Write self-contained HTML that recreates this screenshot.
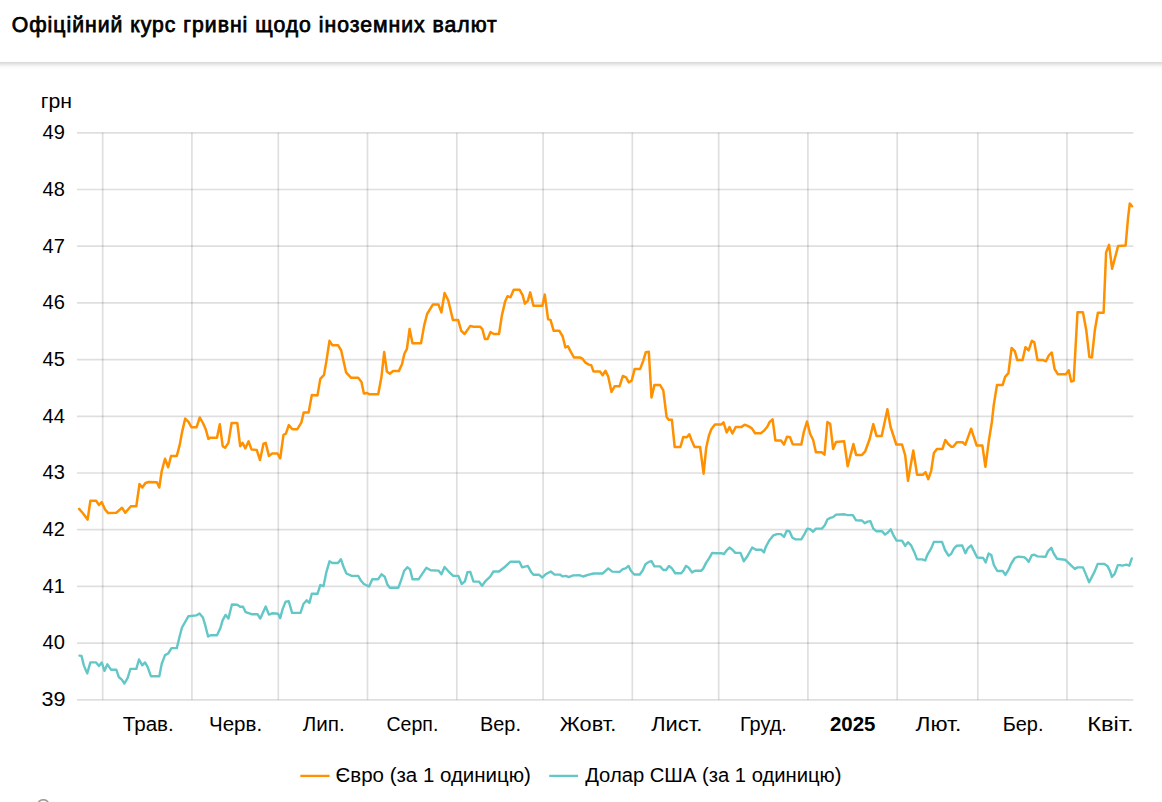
<!DOCTYPE html>
<html lang="uk"><head><meta charset="utf-8">
<title>Офіційний курс гривні щодо іноземних валют</title>
<style>
html,body{margin:0;padding:0;background:#fff;}
body{width:1162px;height:802px;overflow:hidden;position:relative;font-family:"Liberation Sans",Arial,sans-serif;color:#000;}
.hdr{position:absolute;left:-20px;top:0;width:1202px;height:62px;background:#fff;box-shadow:0 2px 5px rgba(0,0,0,0.2);}
svg{position:absolute;left:0;top:0;}
svg text{font-family:"Liberation Sans",Arial,sans-serif;fill:#000;}
</style></head>
<body>
<div class="hdr"></div>
<svg width="1162" height="802" viewBox="0 0 1162 802">
<g stroke="rgba(0,0,0,0.125)" stroke-width="1.7" fill="none">
<line x1="77" y1="132.8" x2="1133.4" y2="132.8"/>
<line x1="77" y1="189.5" x2="1133.4" y2="189.5"/>
<line x1="77" y1="246.2" x2="1133.4" y2="246.2"/>
<line x1="77" y1="302.9" x2="1133.4" y2="302.9"/>
<line x1="77" y1="359.6" x2="1133.4" y2="359.6"/>
<line x1="77" y1="416.3" x2="1133.4" y2="416.3"/>
<line x1="77" y1="473.0" x2="1133.4" y2="473.0"/>
<line x1="77" y1="529.7" x2="1133.4" y2="529.7"/>
<line x1="77" y1="586.4" x2="1133.4" y2="586.4"/>
<line x1="77" y1="643.1" x2="1133.4" y2="643.1"/>
<line x1="77" y1="699.8" x2="1133.4" y2="699.8"/>
<line x1="102.7" y1="132.8" x2="102.7" y2="699.8"/>
<line x1="191.9" y1="132.8" x2="191.9" y2="699.8"/>
<line x1="278.3" y1="132.8" x2="278.3" y2="699.8"/>
<line x1="367.5" y1="132.8" x2="367.5" y2="699.8"/>
<line x1="456.8" y1="132.8" x2="456.8" y2="699.8"/>
<line x1="543.1" y1="132.8" x2="543.1" y2="699.8"/>
<line x1="632.3" y1="132.8" x2="632.3" y2="699.8"/>
<line x1="718.7" y1="132.8" x2="718.7" y2="699.8"/>
<line x1="807.9" y1="132.8" x2="807.9" y2="699.8"/>
<line x1="897.2" y1="132.8" x2="897.2" y2="699.8"/>
<line x1="977.8" y1="132.8" x2="977.8" y2="699.8"/>
<line x1="1067.0" y1="132.8" x2="1067.0" y2="699.8"/>
</g>
<polyline points="79.5,655.6 81.5,655.9 83.9,665.6 87.2,673.4 90.4,662.4 96.1,662.4 99.0,666.0 101.7,662.4 104.5,670.8 107.4,664.3 111.0,669.7 116.3,669.7 118.8,677.0 122.0,679.9 124.4,683.5 127.7,677.8 130.4,668.9 136.3,668.9 139.0,659.5 142.3,665.3 145.0,662.4 147.6,666.9 150.9,676.2 159.3,676.2 161.7,664.0 165.0,655.1 168.2,653.5 171.5,648.1 176.8,648.1 179.6,636.5 182.0,627.5 188.5,616.2 196.3,615.4 199.5,613.4 202.9,617.5 205.2,625.1 208.1,636.5 210.5,635.2 217.0,635.2 220.3,628.3 222.7,620.2 225.6,614.9 228.4,618.6 231.9,604.5 237.3,604.8 240.2,606.8 243.0,606.8 245.7,612.1 251.5,614.2 257.5,614.2 260.3,618.6 265.7,606.5 268.9,614.6 272.1,613.3 278.1,613.8 280.2,618.1 282.7,608.9 285.6,601.6 288.8,601.3 292.1,612.9 300.5,612.9 303.4,604.0 306.7,600.3 309.4,602.9 311.8,593.8 317.5,593.8 320.3,585.1 323.5,586.2 326.1,573.2 329.5,561.3 332.3,563.0 338.0,563.0 340.9,559.2 343.6,567.0 346.4,573.5 351.7,575.9 358.2,575.9 361.0,580.8 363.9,584.0 369.1,586.5 372.3,579.2 378.2,579.2 381.4,574.3 384.7,576.7 387.4,584.5 389.8,587.8 398.3,587.8 401.2,580.0 404.1,571.1 407.3,567.3 410.1,569.4 412.5,579.2 418.7,579.2 421.9,574.3 426.3,567.8 430.7,570.3 438.5,570.6 441.4,574.3 444.6,567.0 449.8,572.7 453.2,575.9 458.4,575.9 461.7,584.0 464.9,581.3 467.5,572.2 470.3,571.9 473.5,581.6 478.9,581.6 482.1,585.7 485.7,580.8 490.2,576.7 493.4,571.5 499.0,571.5 505.1,566.7 510.3,561.8 519.4,561.8 522.1,567.3 527.8,565.9 531.1,571.9 533.5,574.8 539.2,574.8 542.4,577.5 545.6,574.3 550.8,571.5 554.6,574.6 559.9,574.6 562.7,576.4 565.9,575.9 568.7,577.1 573.2,575.4 579.9,575.3 583.1,576.5 588.0,574.8 593.6,573.5 602.6,573.5 605.0,571.3 608.2,568.4 612.3,571.6 619.6,571.9 622.8,569.2 625.6,568.4 628.5,565.9 630.9,570.8 634.2,574.5 639.8,574.5 642.8,570.3 645.5,564.3 648.8,561.9 651.5,561.1 654.4,566.4 660.1,566.4 663.3,570.0 666.1,570.0 669.0,565.9 671.9,568.4 675.2,573.2 681.2,573.2 683.3,570.8 686.0,565.9 688.5,567.5 692.0,572.4 695.0,570.8 701.1,570.8 703.2,568.6 706.2,562.6 709.4,557.8 712.2,552.9 715.4,553.2 721.1,553.2 724.0,554.0 726.7,550.3 729.5,547.5 732.4,549.7 735.3,552.9 740.5,552.9 743.8,561.3 747.0,556.8 752.2,547.5 755.9,549.7 761.3,549.7 764.0,552.4 765.7,547.1 769.4,540.3 773.3,535.4 777.0,534.1 781.0,534.1 784.0,537.0 786.7,530.8 789.5,531.3 792.4,537.8 795.6,539.4 801.3,539.4 804.6,533.8 807.3,528.6 810.2,529.2 813.1,531.8 815.9,528.6 821.9,528.6 824.8,525.3 827.4,519.5 830.2,517.9 833.1,517.2 836.0,514.6 844.5,514.3 847.7,515.1 852.9,515.1 856.1,520.3 862.0,520.5 864.7,523.2 867.5,521.6 870.4,521.1 873.3,528.6 876.5,531.3 882.1,531.3 885.0,534.6 887.9,532.5 890.7,529.2 893.9,536.2 896.6,540.6 902.0,540.6 905.2,545.9 908.0,542.2 910.9,545.1 914.2,551.9 917.1,559.4 922.3,559.4 925.2,560.5 927.4,554.8 931.2,548.4 933.9,541.9 942.0,541.9 945.0,550.0 948.5,555.7 951.1,554.0 954.1,548.3 956.8,545.7 962.2,545.4 965.4,553.2 967.8,548.3 971.1,545.4 974.0,551.1 977.2,557.5 983.2,558.0 985.7,562.4 988.6,553.5 991.3,555.1 993.8,564.8 997.3,571.0 1002.7,571.0 1005.4,574.9 1008.7,569.4 1011.3,563.5 1014.8,558.0 1018.1,556.7 1023.8,557.1 1026.2,558.7 1028.6,561.9 1031.9,555.1 1034.3,554.8 1037.5,556.4 1045.6,556.7 1048.1,551.1 1051.3,547.8 1053.7,553.5 1057.0,558.7 1065.1,559.7 1070.0,564.4 1074.8,568.9 1077.5,567.4 1082.9,567.4 1085.9,574.4 1089.1,582.3 1091.9,576.9 1094.9,570.9 1097.7,563.9 1104.4,563.9 1107.4,565.9 1109.9,570.9 1111.9,576.9 1114.7,573.9 1117.9,565.1 1119.9,565.1 1122.3,565.7 1126.3,564.7 1129.3,565.7 1131.8,558.4" fill="none" stroke="#63c7c7" stroke-width="2.4" stroke-linejoin="round" stroke-linecap="round"/>
<polyline points="79.1,508.9 83.1,513.5 87.6,519.6 90.4,500.8 96.1,500.8 99.0,505.0 101.7,502.1 105.0,509.4 108.2,513.1 116.3,512.8 122.0,507.8 125.3,512.7 130.9,506.2 136.3,506.2 139.5,484.0 142.3,487.5 145.5,483.0 148.8,482.0 156.9,482.3 159.3,487.5 161.7,471.3 165.0,458.7 168.2,467.3 171.1,455.9 176.8,455.9 179.6,445.4 182.0,432.4 185.2,418.6 188.5,421.9 191.4,427.2 196.6,427.2 199.8,417.5 203.2,423.5 205.7,429.2 208.4,438.9 210.5,437.7 217.0,437.7 219.8,424.3 222.7,446.2 225.1,447.8 228.4,442.9 231.6,423.0 237.3,423.0 240.2,446.2 242.5,442.9 245.4,448.3 248.6,441.3 251.5,449.4 256.7,449.9 260.0,460.0 263.5,443.7 265.7,442.9 268.9,455.9 272.1,453.5 277.5,453.5 280.2,458.3 283.5,434.8 285.9,433.7 288.8,425.1 292.4,429.2 297.3,429.2 301.3,422.7 303.7,412.6 308.6,412.6 311.8,395.1 317.5,395.4 320.3,378.9 324.0,374.9 326.4,361.1 329.5,340.8 332.3,345.2 338.0,345.2 341.2,350.5 346.1,372.4 350.9,377.7 358.2,377.7 361.5,382.1 363.9,393.5 367.1,393.0 369.6,394.3 378.2,394.3 381.4,377.3 384.2,352.1 386.9,371.6 389.8,373.7 393.1,371.1 398.8,371.1 402.0,364.3 404.4,353.8 406.9,348.9 409.6,329.0 412.5,343.2 421.0,343.2 424.2,325.4 427.1,314.0 432.8,304.6 438.5,304.6 441.4,312.4 444.6,293.0 448.2,300.3 452.9,319.9 458.1,319.9 461.3,330.8 464.6,334.0 470.3,325.9 473.5,326.7 480.0,326.7 482.4,329.2 484.9,338.9 487.6,338.9 490.5,332.1 493.8,334.0 499.0,334.0 501.9,315.4 505.1,301.6 507.5,296.3 510.5,297.2 513.7,289.8 519.7,289.8 522.6,295.1 524.9,303.7 527.8,300.8 530.2,292.4 533.5,305.7 542.4,305.7 544.8,294.6 548.1,319.4 550.5,319.9 553.7,330.8 559.4,330.8 562.7,336.5 565.4,347.5 568.0,346.2 570.8,351.9 574.0,357.5 579.9,357.5 582.3,358.6 585.5,362.7 588.8,364.6 591.2,365.1 593.6,371.6 600.1,371.6 602.6,375.3 605.5,370.8 608.2,376.5 611.5,391.9 614.7,386.2 619.6,386.2 622.8,376.0 626.1,377.3 628.8,382.5 631.7,380.5 634.7,368.9 640.2,368.9 643.1,361.1 645.8,352.2 648.8,351.7 651.5,397.5 654.4,385.1 660.1,385.1 663.3,390.3 666.6,417.0 668.7,419.8 671.9,419.8 674.7,447.0 680.4,447.0 683.3,436.9 686.8,437.3 689.3,434.3 691.7,440.5 694.6,447.0 700.1,447.0 703.6,473.7 706.2,447.8 708.9,435.7 711.3,429.2 714.9,424.6 721.1,424.6 723.5,422.4 726.7,432.4 729.5,427.1 732.4,433.5 735.7,427.1 741.3,427.1 744.6,424.8 747.8,425.9 751.9,428.4 755.1,433.2 760.8,433.2 764.0,430.8 767.3,426.7 769.7,421.9 772.6,419.4 775.4,440.5 781.0,440.5 784.0,444.6 787.0,436.8 790.0,437.3 792.7,444.2 801.3,444.6 803.7,432.4 807.0,421.5 810.2,434.0 813.1,439.7 815.9,452.3 821.6,452.3 824.5,454.6 827.4,422.1 830.2,423.8 833.1,448.9 836.0,441.9 844.1,441.3 847.7,466.2 853.4,444.0 856.1,454.9 862.0,454.9 865.2,451.3 869.6,439.2 873.3,424.1 876.5,435.9 881.7,435.9 887.4,409.2 890.6,427.0 896.3,444.5 902.0,444.5 905.2,455.4 908.0,480.8 913.3,450.5 917.1,474.8 922.7,474.8 925.5,472.1 928.3,479.2 931.2,470.8 933.9,452.9 936.9,448.9 942.5,448.9 945.3,440.0 948.2,444.0 951.4,446.8 953.2,446.8 956.8,442.3 962.6,442.3 965.4,444.7 971.1,428.7 976.7,445.6 982.4,445.6 985.4,466.8 988.9,440.4 991.8,422.5 993.8,404.7 997.0,384.9 1002.7,384.9 1005.1,376.8 1008.4,373.1 1011.6,348.0 1014.8,351.2 1017.3,360.1 1022.6,360.1 1025.4,347.2 1028.6,350.4 1031.9,340.7 1034.3,342.3 1037.5,360.1 1043.2,360.1 1046.0,361.3 1048.9,355.3 1051.8,352.5 1054.6,369.0 1057.8,374.2 1065.9,374.2 1068.7,370.3 1071.2,381.5 1073.7,380.8 1077.5,312.2 1082.9,312.2 1086.2,329.7 1089.4,357.1 1091.9,357.6 1094.9,329.7 1097.9,312.7 1103.6,312.7 1106.1,252.4 1109.1,244.8 1112.1,268.8 1118.1,246.1 1125.6,245.5 1128.1,217.4 1129.8,203.5 1132.0,206.2" fill="none" stroke="#ff9100" stroke-width="2.5" stroke-linejoin="round" stroke-linecap="round"/>
<line x1="300.3" y1="775.9" x2="329.6" y2="775.9" stroke="#ff9100" stroke-width="2.3"/>
<line x1="549.2" y1="775.9" x2="578.1" y2="775.9" stroke="#63c7c7" stroke-width="2.3"/>
<text x="11.70" y="31.7" font-size="21.2" stroke="#000" stroke-width="0.75" textLength="485.09" lengthAdjust="spacing">Офіційний курс гривні щодо іноземних валют</text>
<text x="40.80" y="108.0" font-size="20" textLength="31.31" lengthAdjust="spacingAndGlyphs">грн</text>
<text x="335.60" y="781.7" font-size="19.5" textLength="195.32" lengthAdjust="spacingAndGlyphs">Євро (за 1 одиницю)</text>
<text x="585.20" y="781.7" font-size="19.5" textLength="256.25" lengthAdjust="spacingAndGlyphs">Долар США (за 1 одиницю)</text>
<text x="122.80" y="731.0" font-size="19.5" textLength="51.00" lengthAdjust="spacingAndGlyphs">Трав.</text>
<text x="209.00" y="731.0" font-size="19.5" textLength="53.11" lengthAdjust="spacingAndGlyphs">Черв.</text>
<text x="302.80" y="731.0" font-size="19.5" textLength="41.98" lengthAdjust="spacingAndGlyphs">Лип.</text>
<text x="386.50" y="731.0" font-size="19.5" textLength="51.84" lengthAdjust="spacingAndGlyphs">Серп.</text>
<text x="480.00" y="731.0" font-size="19.5" textLength="40.92" lengthAdjust="spacingAndGlyphs">Вер.</text>
<text x="559.80" y="731.0" font-size="19.5" textLength="56.45" lengthAdjust="spacingAndGlyphs">Жовт.</text>
<text x="651.20" y="731.0" font-size="19.5" textLength="51.18" lengthAdjust="spacingAndGlyphs">Лист.</text>
<text x="739.90" y="731.0" font-size="19.5" textLength="46.95" lengthAdjust="spacingAndGlyphs">Груд.</text>
<text x="830.00" y="731.0" font-size="19.5" font-weight="bold" textLength="45.51" lengthAdjust="spacingAndGlyphs">2025</text>
<text x="915.50" y="731.0" font-size="19.5" textLength="45.76" lengthAdjust="spacingAndGlyphs">Лют.</text>
<text x="1002.70" y="731.0" font-size="19.5" textLength="40.72" lengthAdjust="spacingAndGlyphs">Бер.</text>
<text x="1087.20" y="731.0" font-size="19.5" textLength="46.50" lengthAdjust="spacingAndGlyphs">Квіт.</text>
<text x="42.50" y="139.1" font-size="19.6" textLength="22.33" lengthAdjust="spacingAndGlyphs">49</text>
<text x="42.50" y="195.8" font-size="19.6" textLength="22.33" lengthAdjust="spacingAndGlyphs">48</text>
<text x="42.50" y="252.5" font-size="19.6" textLength="22.33" lengthAdjust="spacingAndGlyphs">47</text>
<text x="42.50" y="309.2" font-size="19.6" textLength="22.33" lengthAdjust="spacingAndGlyphs">46</text>
<text x="42.50" y="365.9" font-size="19.6" textLength="22.33" lengthAdjust="spacingAndGlyphs">45</text>
<text x="42.50" y="422.6" font-size="19.6" textLength="22.33" lengthAdjust="spacingAndGlyphs">44</text>
<text x="42.50" y="479.3" font-size="19.6" textLength="22.33" lengthAdjust="spacingAndGlyphs">43</text>
<text x="42.50" y="536.0" font-size="19.6" textLength="22.33" lengthAdjust="spacingAndGlyphs">42</text>
<text x="42.50" y="592.7" font-size="19.6" textLength="22.33" lengthAdjust="spacingAndGlyphs">41</text>
<text x="42.50" y="649.4" font-size="19.6" textLength="22.33" lengthAdjust="spacingAndGlyphs">40</text>
<text x="41.50" y="706.1" font-size="19.6" textLength="24.05" lengthAdjust="spacingAndGlyphs">39</text>
<text x="36.3" y="812" font-size="18" style="fill:#9a9a9a">Оновлено</text>
</svg>

</body></html>
